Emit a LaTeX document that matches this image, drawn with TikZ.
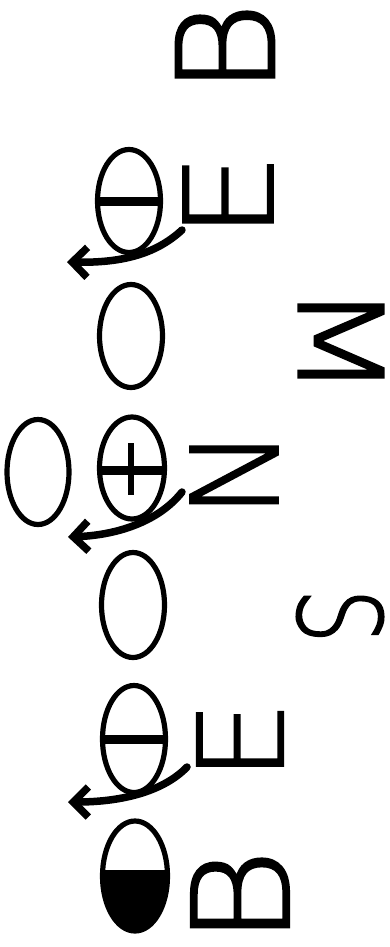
\documentclass[tikz,border=0pt]{standalone}
\usepackage{fontspec}
\usetikzlibrary{shapes.geometric,arrows.meta}
\newcommand\trylight[2]{\IfFontExistsTF{#1}{\newfontfamily\ltrfont{#1}[FakeBold=1.8]}{#2}}
\trylight{DejaVuSans-ExtraLight.ttf}{%
 \trylight{DejaVu Sans ExtraLight}{%
  \trylight{Lato Thin}{%
   \trylight{Poppins ExtraLight}{%
    \trylight{Fira Sans ExtraLight}{%
     \trylight{Fira Sans Light}{%
      \trylight{Lato Light}{%
       \newfontfamily\ltrfont{Fira Sans}}}}}}}}
\newcommand\ltrtext[3]{\scalebox{#1}[1]{\ltrfont\fontsize{#2}{#2}\selectfont #3}}
\begin{document}
\begin{tikzpicture}[x=1pt,y=-1pt,
  orb/.style={ellipse,draw,line width=5.2pt,inner sep=0pt,minimum width=63pt,minimum height=103pt},
  letter/.style={inner sep=0pt,anchor=center,rotate=90},
  letterr/.style={inner sep=0pt,anchor=center,rotate=-90},
  signbar/.style={line width=9pt},
  arr/.style={line width=7.5pt,line cap=round,-{Straight Barb[length=15pt,width=30pt]}}]
\useasboundingbox (0,0) rectangle (390,947);
% orbitals
\node[orb] (e1) at (129,201) {};
\node[orb] (e2) at (131,336) {};
\node[orb,minimum width=62pt,minimum height=105pt] (e3) at (38,472) {};
\node[orb,minimum width=65pt,minimum height=102pt] (e4) at (132,468) {};
\node[orb,minimum height=105pt] (e5) at (133,605) {};
\node[orb,minimum height=107pt] (e6) at (134,739) {};
% half-filled orbital
\begin{scope}
  \clip (95,870) rectangle (175,940);
  \fill (135,876) ellipse [x radius=33pt,y radius=55.5pt];
\end{scope}
\node[orb,minimum width=65pt,minimum height=110pt] (e7) at (135,876) {};
% signs
\draw[signbar] (e1.west) -- (e1.east);
\draw[signbar] (e6.west) -- (e6.east);
\draw[signbar] ([yshift=-2pt]e4.west) -- ([yshift=-2pt]e4.east);
\coordinate (p1) at (131,443);
\coordinate (p2) at (131,495);
\draw[line width=5.5pt] (p1) -- (p2);
% letters
\node[letter] (B1) at (225,48.5) {\ltrtext{1.05}{135}{B}};
\node[letter] (E1) at (228,196) {\ltrtext{1.1}{123}{E}};
\node[letter] (N1) at (234,473) {\ltrtext{1}{120}{N}};
\node[letterr] (M1) at (341,341) {\ltrtext{1.15}{117}{M}};
\node[letterr] (S1) at (340,616) {\ltrtext{0.75}{115}{S}};
\node[letter] (E2) at (240,741) {\ltrtext{1.08}{118}{E}};
\node[letter] (B2) at (240,897) {\ltrtext{1.1}{134}{B}};
% arrows
\coordinate (a1s) at (182,230);
\coordinate (a1e) at (67,262);
\coordinate (a2s) at (182,492);
\coordinate (a2e) at (68,537);
\coordinate (a3s) at (187,767);
\coordinate (a3e) at (68,802);
\draw[arr] (a1s) .. controls (155,255) and (120,263) .. (a1e);
\draw[arr] (a2s) .. controls (160,520) and (120,535) .. (a2e);
\draw[arr] (a3s) .. controls (165,790) and (125,802) .. (a3e);
\end{tikzpicture}
\end{document}
